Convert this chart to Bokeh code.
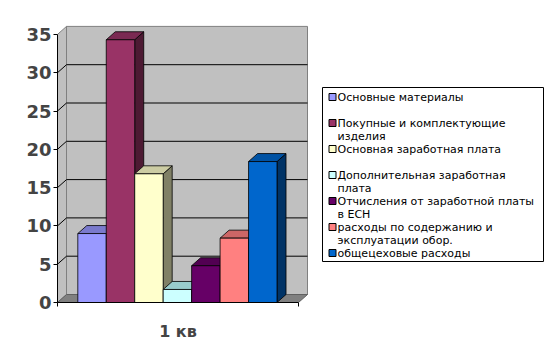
from bokeh.plotting import figure
from bokeh.models import Range1d, FixedTicker
from bokeh.embed import file_html
from bokeh.resources import INLINE
from bokeh.core.properties import value

# ---- data ----
categories = ["Основные материалы",
              "Покупные и комплектующие\nизделия",
              "Основная заработная плата",
              "Дополнительная заработная\nплата",
              "Отчисления от заработной платы\nв ЕСН",
              "расходы по содержанию и\nэксплуатации обор.",
              "общецеховые расходы"]
values = [9.0, 34.3, 16.8, 1.7, 4.8, 8.4, 18.4]
group_label = "1 кв"
y_ticks = [0, 5, 10, 15, 20, 25, 30, 35]

front_colors = ["#9999FF", "#993366", "#FFFFCC", "#CCFFFF", "#660066", "#FF8080", "#0066CC"]
top_colors = ["#7A7ACC", "#7A2952", "#CCCCA3", "#99CCCC", "#520052", "#CC6666", "#0052A3"]
side_colors = ["#4D4D80", "#4D1A33", "#808066", "#668080", "#330033", "#804040", "#003366"]

# ---- layout constants ----
PPU = 7.66          # pixels per value unit
LEFT = 57
TOP = 15
FRAME_H = 287
W, H = 546, 352
FRAME_W = W - LEFT
AX_W = 241          # front width of plot floor (px)
DX = 9              # depth offset x (px)
DY = 8 / PPU        # depth offset y (value units)
BAR_W = 28.46
BAR_X0 = 20.3
YMAX = 35
FONT = "DejaVu Sans"
BASE = TOP + FRAME_H   # pixel row of value 0

p = figure(width=W, height=H, output_backend="svg", toolbar_location=None,
           x_range=Range1d(0, FRAME_W), y_range=Range1d(0, FRAME_H / PPU),
           min_border_left=LEFT, min_border_right=0, min_border_top=TOP,
           min_border_bottom=H - TOP - FRAME_H)
p.background_fill_color = "white"
p.border_fill_color = "white"
p.outline_line_color = None
p.grid.visible = False

# axes
p.yaxis.ticker = FixedTicker(ticks=y_ticks)
p.yaxis.bounds = (0, YMAX)
p.yaxis.major_tick_out = 4
p.yaxis.major_tick_in = 0
p.yaxis.minor_tick_line_color = None
p.yaxis.major_label_text_font = FONT
p.yaxis.major_label_text_font_style = "bold"
p.yaxis.major_label_text_font_size = "18px"
p.yaxis.major_label_standoff = 2
p.yaxis.axis_line_color = "black"

p.xaxis.ticker = FixedTicker(ticks=[AX_W / 2], minor_ticks=[0, AX_W])
p.xaxis.bounds = (0, AX_W)
p.xaxis.major_tick_out = 0
p.xaxis.major_tick_in = 0
p.xaxis.minor_tick_out = 4
p.xaxis.minor_tick_in = 0
p.xaxis.minor_tick_line_color = "black"
p.xaxis.major_label_overrides = {AX_W / 2: group_label}
p.xaxis.major_label_text_font = FONT
p.xaxis.major_label_text_font_style = "bold"
p.xaxis.major_label_text_font_size = "16px"
p.xaxis.major_label_standoff = 15
p.xaxis.axis_line_color = "black"

wall = "#C0C0C0"
edge = "#808080"
# left side wall
p.patch([0, DX, DX, 0], [0, DY, YMAX + DY, YMAX], fill_color=wall, line_color=edge, line_width=1)
# back wall
p.patch([DX, AX_W + DX, AX_W + DX, DX], [DY, DY, YMAX + DY, YMAX + DY],
        fill_color=wall, line_color=edge, line_width=1)
# floor
p.patch([0, AX_W, AX_W + DX, DX], [0, 0, DY, DY], fill_color="#808080", line_color="#606060", line_width=1)
# gridlines
grid_vals = [t for t in y_ticks if 0 < t < YMAX]
p.multi_line([[0, DX, AX_W + DX] for _ in grid_vals],
             [[t, t + DY, t + DY] for t in grid_vals], line_color="black", line_width=1)

# bars
for i, v in enumerate(values):
    L = BAR_X0 + i * BAR_W
    R = L + BAR_W
    p.patch([R, R + DX, R + DX, R], [0, DY, v + DY, v], fill_color=side_colors[i],
            line_color="black", line_width=0.8)
    p.patch([L, R, R + DX, L + DX], [v, v, v + DY, v + DY], fill_color=top_colors[i],
            line_color="black", line_width=0.8)
    p.quad(left=L, right=R, bottom=0, top=v, fill_color=front_colors[i],
           line_color="black", line_width=0.8)

# legend (drawn in plot coordinates)
def px_to_y(py):
    return (BASE - py) / PPU

LX0, LX1 = 322 - LEFT, 543 - LEFT
p.quad(left=LX0, right=LX1, bottom=px_to_y(261), top=px_to_y(87),
       fill_color="white", line_color="black", line_width=1)
ENTRY_Y0 = 96.5
ENTRY_STEP = 26.0
LINE_STEP = 13.7
mx, my, tx, ty, tt = [], [], [], [], []
for i, lab in enumerate(categories):
    yy = ENTRY_Y0 + i * ENTRY_STEP
    mx.append(332 - LEFT)
    my.append(px_to_y(yy))
    for j, line in enumerate(lab.split("\n")):
        tx.append(337 - LEFT)
        ty.append(px_to_y(yy + j * LINE_STEP))
        tt.append(line)
p.scatter(mx, my, marker="square", size=7, fill_color=front_colors, line_color="black", line_width=1)
p.text(tx, ty, text=tt, text_font=value(FONT), text_font_size="11px",
       text_baseline="middle", text_align="left", text_color="black")

open("out.html", "w").write(file_html(p, INLINE))
